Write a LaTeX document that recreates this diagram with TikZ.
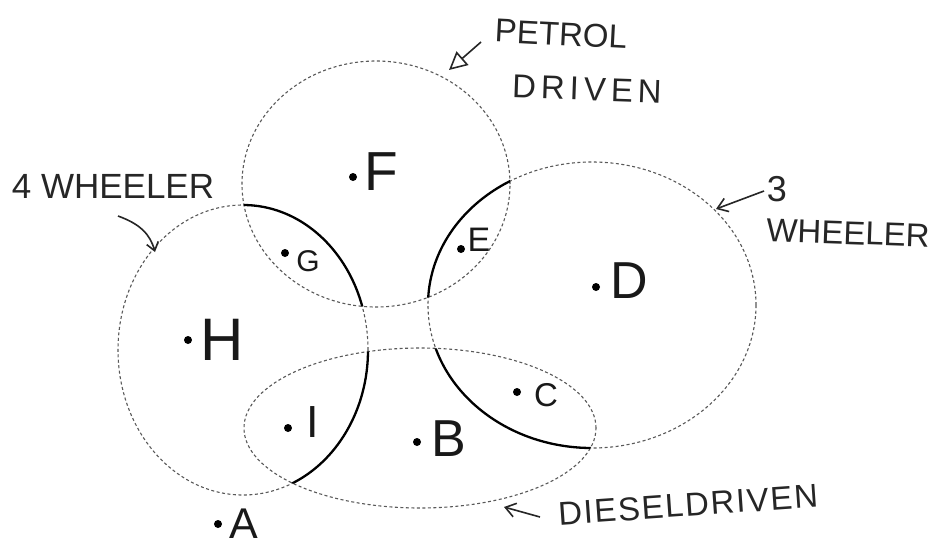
\documentclass[tikz,border=0pt]{standalone}
\usepackage{fontspec}
\setmainfont{Liberation Sans}
\newfontfamily\spacedA[LetterSpace=15]{Liberation Sans}
\newfontfamily\spacedB[LetterSpace=5]{Liberation Sans}
\usetikzlibrary{arrows.meta}
\begin{document}
\begin{tikzpicture}[x=1pt,y=-1pt,
  setline/.style={draw=black!65, line width=1.1pt, dash pattern=on 3pt off 2.5pt},
  boldarc/.style={draw=black, line width=2.3pt},
  dotst/.style={circle, fill=black, inner sep=0pt, minimum size=8pt},
  lbl/.style={inner sep=0pt, text=black!90},
  hw/.style={inner sep=0pt, text=black!85, font=\fontsize{33}{36}\selectfont},
  pen/.style={draw=black!85, line width=1.6pt}]
\useasboundingbox (0,0) rectangle (932,550);
\fill[white] (0,0) rectangle (932,550);

% set outlines
\draw[setline] (376,184) ellipse [x radius=134pt, y radius=123pt]; % petrol
\draw[setline] (243,350) ellipse [x radius=125pt, y radius=145pt]; % 4 wheeler
\draw[setline] (592,305) ellipse [x radius=164pt, y radius=143pt]; % 3 wheeler
\draw[setline] (420,428) ellipse [x radius=176pt, y radius=80pt];  % diesel

% bold boundaries of regions G, E, I, C
\begin{scope}
  \clip (376,184) ellipse [x radius=134pt, y radius=123pt];
  \draw[boldarc] (243,350) ellipse [x radius=125pt, y radius=145pt];
  \draw[boldarc] (592,305) ellipse [x radius=164pt, y radius=143pt];
\end{scope}
\begin{scope}
  \clip (420,428) ellipse [x radius=176pt, y radius=80pt];
  \draw[boldarc] (243,350) ellipse [x radius=125pt, y radius=145pt];
  \draw[boldarc] (592,305) ellipse [x radius=164pt, y radius=143pt];
\end{scope}

% points and letters
\node[dotst] (dF) at (353,177) {};
\node[lbl, font=\fontsize{55}{60}\selectfont] (F) at (381,172) {F};
\node[dotst] (dG) at (285,253) {};
\node[lbl, font=\fontsize{30}{34}\selectfont] (G) at (308,261) {G};
\node[dotst] (dE) at (461,249) {};
\node[lbl, font=\fontsize{34}{38}\selectfont] (E) at (479,240) {E};
\node[dotst] (dD) at (596,287) {};
\node[lbl, font=\fontsize{52}{56}\selectfont] (D) at (629,281) {D};
\node[dotst] (dH) at (188,340) {};
\node[lbl, font=\fontsize{60}{64}\selectfont] (H) at (222,340) {H};
\node[dotst] (dI) at (288,428) {};
\node[lbl, font=\fontsize{45}{50}\selectfont] (I) at (313,422) {I};
\node[dotst] (dB) at (417,442) {};
\node[lbl, font=\fontsize{52}{56}\selectfont] (B) at (449,439) {B};
\node[dotst] (dC) at (517,392) {};
\node[lbl, font=\fontsize{33}{36}\selectfont] (C) at (546,395) {C};
\node[dotst] (dA) at (218,524) {};
\node[lbl, font=\fontsize{43}{46}\selectfont] (A) at (244,524) {A};

% set names
\node[hw, rotate=-3] (petrol) at (561,34) {PETROL};
\node[hw, rotate=-2, font=\fontsize{33}{36}\spacedA] (pdriven) at (587,89) {DRIVEN};
\node[hw, font=\fontsize{35}{38}\selectfont] (four) at (113,186) {4 WHEELER};
\node[hw, font=\fontsize{36}{40}\selectfont] (three) at (777,189) {3};
\node[hw, rotate=-2] (threew) at (848,233) {WHEELER};
\node[hw, rotate=4, font=\fontsize{33}{36}\spacedB] (diesel) at (688,505) {DIESELDRIVEN};

% pointer arrows
\coordinate (pstart) at (481,42);
\coordinate (ptip) at (449,70);
\draw[pen, -{Triangle[open, length=18pt, width=18pt]}] (pstart) -- (ptip);

\coordinate (fstart) at (118,216);
\coordinate (ftip) at (155,252);
\draw[pen, -{Straight Barb[length=8pt, width=12pt]}] (fstart) .. controls (140,224) and (150,234) .. (ftip);

\coordinate (tstart) at (764,191);
\coordinate (ttip) at (716,209);
\draw[pen, -{Straight Barb[length=10pt, width=14pt]}] (tstart) -- (ttip);

\coordinate (dstart) at (540,517);
\coordinate (dtip) at (504,507);
\draw[pen, -{Straight Barb[length=10pt, width=14pt]}] (dstart) -- (dtip);
\end{tikzpicture}
\end{document}
